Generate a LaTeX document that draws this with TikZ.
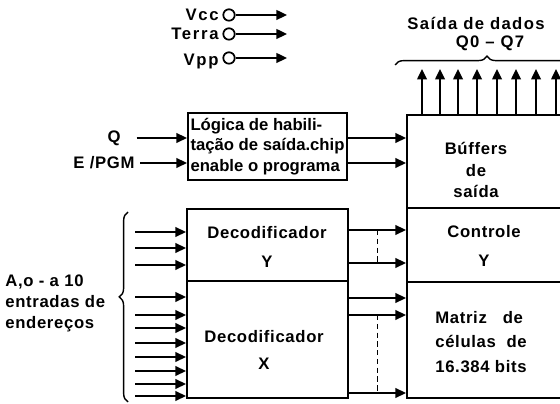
\documentclass[tikz,border=0pt]{standalone}
\usepackage{fontspec}
\setmainfont{Liberation Sans}[LetterSpace=4]
\usetikzlibrary{arrows.meta, positioning, calc, decorations.pathreplacing}

\tikzset{
    blockbox/.style={draw, line width=1.2pt, inner sep=0pt},
    lbl/.style={font=\bfseries\fontsize{9.5}{12}\selectfont, align=center, inner sep=0pt},
    arr/.style={line width=1.1pt, -{Triangle[length=6pt, width=5.5pt]}},
    arrin/.style={line width=1.1pt, {Triangle[length=6pt, width=5.5pt]}-},
    term/.style={circle, draw, line width=1pt, minimum size=6.5pt, inner sep=0pt},
    bracedeco/.style={decorate, line width=0.8pt, decoration={brace, amplitude=5pt, #1}}
}

\begin{document}
\begin{tikzpicture}[x=0.02cm, y=-0.02cm]
    \useasboundingbox (0,0) rectangle (560,404);

    % alimentacao
    \foreach \n/\t/\y/\s in {vcc/Vcc/15/0pt, terra/Terra/34/0pt, vpp/Vpp/58/-2pt} {
        \node[term, label={[lbl, font=\bfseries\fontsize{9.5}{12}\selectfont\addfontfeature{LetterSpace=10},
              label distance=2pt, yshift=\s]left:\t}] (\n) at (229,\y) {};
        \draw[arr] (\n) -- ++(58,0);
    }

    % blocos
    \node[blockbox, minimum width=3.18cm, minimum height=1.34cm, align=left,
          inner sep=1pt, font=\bfseries\fontsize{9.5}{11.5}\selectfont\addfontfeature{LetterSpace=0}]
        (logica) at (267.5,146.5)
        {L\'ogica de habili-\\ta\c{c}\~ao de sa\'ida.chip\\enable o programa};
    \node[blockbox, minimum width=3.22cm, minimum height=1.44cm] (decY) at (267.5,245) {};
    \node[blockbox, minimum width=3.22cm, minimum height=2.34cm] (decX) at (267.5,339.5) {};
    \node[blockbox, minimum width=3.36cm, minimum height=1.86cm] (buffers) at (491,161.5) {};
    \node[blockbox, minimum width=3.36cm, minimum height=1.48cm] (controle) at (491,245) {};
    \node[blockbox, minimum width=3.36cm, minimum height=2.32cm] (matriz) at (491,340) {};

    \node[lbl] (tdy) at (267,247) {Decodificador\\[4pt]Y};
    \node[lbl] (tdx) at (264,350) {Decodificador\\[3pt]X};
    \node[lbl] (tbuf) at (476,170) {B\'uffers\\de\\sa\'ida};
    \node[lbl] (tctl) at (484,246) {Controle\\[4pt]Y};
    \node[lbl, align=left] (tmat) at (481,342) {Matriz\ \ \ de\\[2pt]c\'elulas\ \ de\\[2pt]16.384 bits};

    % saidas de dados
    \node[lbl, font=\bfseries\fontsize{9.5}{12}\selectfont\addfontfeature{LetterSpace=8}] (tsaida) at (476,23) {Sa\'ida de dados};
    \node[lbl, font=\bfseries\fontsize{9.5}{12}\selectfont\addfontfeature{LetterSpace=8}] (tq) at (490,43) {Q0 -- Q7};
    \draw[bracedeco={}] (395,65) -- (579,65);
    \foreach \x in {422,440,458,477,497,516,536,556}
        \draw[arr] (\x,0 |- buffers.north) -- ++(0,-45);

    % controle
    \node[lbl] (q) at (114,138) {Q};
    \node[lbl] (epgm) at (104,163) {E /PGM};
    \draw[arr] ([xshift=9pt]q.east) -- (logica.west |- q);
    \draw[arr] ([xshift=3pt]epgm.east) -- (logica.west |- epgm);
    \draw[arr] (logica.east |- q) -- (buffers.west |- q);
    \draw[arr] (logica.east |- epgm) -- (buffers.west |- epgm);

    % enderecos
    \node[lbl, align=left, anchor=west] (tend) at (5,303) {A,o - a 10\\entradas de\\endere\c{c}os};
    \draw[bracedeco={aspect=0.553}] (128,402) -- (128,212);
    \foreach \y in {232,248,265}
        \draw[arrin] (decY.west |- 0,\y) -- ++(-51,0);
    \foreach \y in {297,315,328,343,357,371,384,396}
        \draw[arrin] (decX.west |- 0,\y) -- ++(-51,0);

    % saidas dos decodificadores
    \draw[arr] (decY.east |- 0,230) -- coordinate[pos=.5] (ya) (controle.west |- 0,230);
    \draw[arr] (decY.east |- 0,263) -- coordinate[pos=.5] (yb) (controle.west |- 0,263);
    \draw[arr] (decX.east |- 0,298) -- (matriz.west |- 0,298);
    \draw[arr] (decX.east |- 0,315) -- coordinate[pos=.5] (xa) (matriz.west |- 0,315);
    \draw[arr] (decX.east |- 0,393) -- coordinate[pos=.5] (xb) (matriz.west |- 0,393);
    \draw[line width=1pt, dash pattern=on 3pt off 2pt] (ya) -- (yb);
    \draw[line width=1pt, dash pattern=on 3pt off 2pt] (xa) -- (xb);
\end{tikzpicture}
\end{document}
